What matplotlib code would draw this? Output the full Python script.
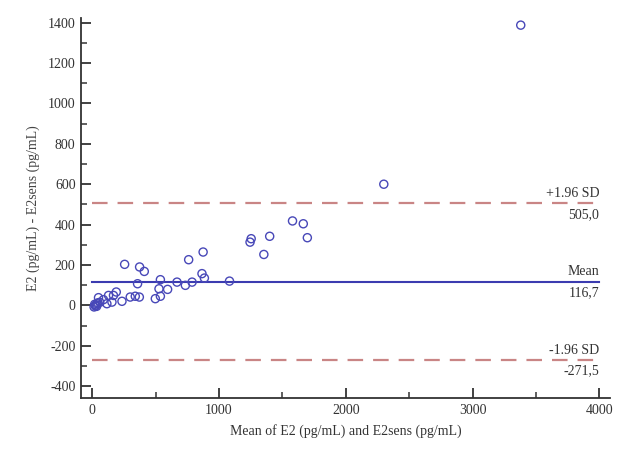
import matplotlib.pyplot as plt
from matplotlib.ticker import MultipleLocator

plt.rcParams['font.family'] = ['Liberation Serif', 'DejaVu Serif']
plt.rcParams['axes.unicode_minus'] = False

# mean of the two methods (pg/mL) and their difference (pg/mL)
mean_vals = [3380, 2300, 1580, 1665, 1697, 1254, 1245, 1400, 1354,
             875, 761, 256, 374, 411, 866, 885, 1083, 358, 538, 527,
             595, 498, 538, 669, 735, 788, 300, 372, 340, 235, 190,
             168, 129, 156, 89, 50, 37, 30, 35, 60, 116, 20, 15, 45, 25]
diff_vals = [1388, 600, 418, 404, 335, 330, 313, 342, 252,
             264, 226, 203, 190, 168, 157, 135, 120, 107, 127, 82,
             79, 33, 45, 115, 99, 115, 41, 41, 45, 20, 66,
             49, 49, 16, 28, 38, 8, 0, -5, 15, 8, 5, -8, 12, -3]

bias = 116.7
upper = 505.0
lower = -271.5

fig = plt.figure(figsize=(6.29, 4.53), dpi=100)
ax = fig.add_axes([0.129, 0.121, 0.84, 0.84])

ax.scatter(mean_vals, diff_vals, s=34, facecolors='none',
           edgecolors='#4848b8', linewidths=1.0, zorder=3)

ax.plot([0, 4000], [bias, bias], color='#3b3bb0', lw=1.5)
for lim in (upper, lower):
    ax.plot([0, 4000], [lim, lim], color='#c98585', lw=1.6,
            dashes=(7, 4.5))

txt = dict(ha='right', fontsize=10, color='#333333')
ax.text(4000, upper + 18, '+1.96 SD', va='bottom', **txt)
ax.text(4000, upper - 22, f'{upper:.1f}'.replace('.', ','), va='top', **txt)
ax.text(4000, bias + 18, 'Mean', va='bottom', **txt)
ax.text(4000, bias - 22, f'{bias:.1f}'.replace('.', ','), va='top', **txt)
ax.text(4000, lower + 18, '-1.96 SD', va='bottom', **txt)
ax.text(4000, lower - 22, f'{lower:.1f}'.replace('.', ','), va='top', **txt)

ax.set_xlim(-87, 4080)
ax.set_ylim(-460, 1425)
ax.xaxis.set_major_locator(MultipleLocator(1000))
ax.xaxis.set_minor_locator(MultipleLocator(500))
ax.yaxis.set_major_locator(MultipleLocator(200))
ax.yaxis.set_minor_locator(MultipleLocator(100))

for s in ('top', 'right'):
    ax.spines[s].set_visible(False)
for s in ('left', 'bottom'):
    ax.spines[s].set_linewidth(1.3)
    ax.spines[s].set_color('#333333')

ax.tick_params(which='major', direction='in', length=7, width=1.3,
               color='#333333', labelsize=10, labelcolor='#333333', pad=4)
ax.tick_params(which='minor', direction='in', length=4, width=1.1,
               color='#333333')

ax.set_xlabel('Mean of E2 (pg/mL) and E2sens (pg/mL)', fontsize=10,
              color='#333333', labelpad=5)
ax.set_ylabel('E2 (pg/mL) - E2sens (pg/mL)', fontsize=10,
              color='#444444', labelpad=6)

fig.savefig('out.png', dpi=100)
